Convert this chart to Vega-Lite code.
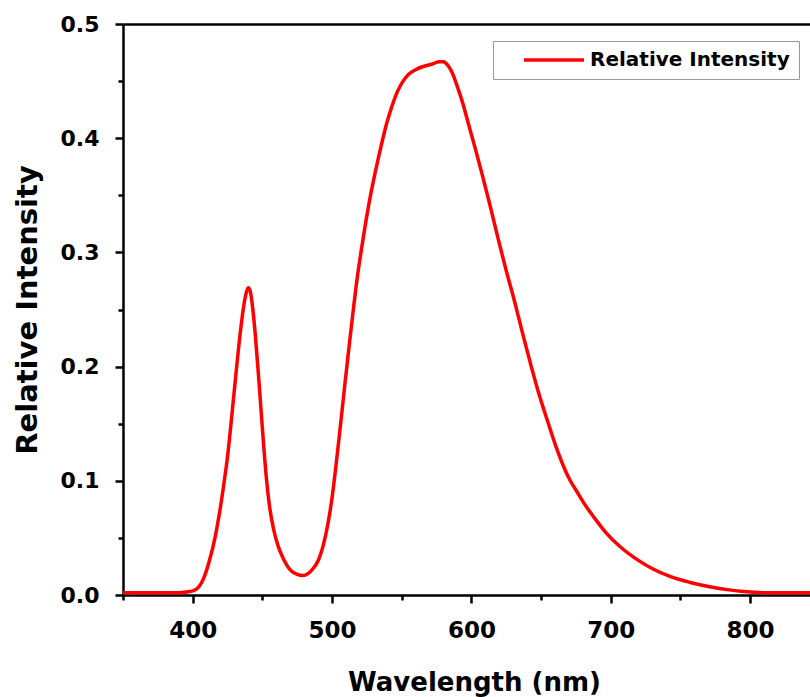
{
  "$schema": "https://vega.github.io/schema/vega-lite/v6.json",
  "autosize": {"type": "none"},
  "padding": {"left": 123, "top": 24, "right": 0, "bottom": 102},
  "width": 687,
  "height": 571,
  "background": "white",
  "config": {
    "view": {"stroke": null},
    "font": "DejaVu Sans",
    "axis": {"grid": false, "domainColor": "black", "tickColor": "black", "domainWidth": 2.5, "tickWidth": 2.5, "labelColor": "black", "titleColor": "black", "labelFont": "DejaVu Sans", "titleFont": "DejaVu Sans", "labelFontWeight": "bold", "titleFontWeight": "bold"}
  },
  "data": {"values": [
    {"wl": 350, "ri": 0.002, "s": "Relative Intensity"},
    {"wl": 370, "ri": 0.002, "s": "Relative Intensity"},
    {"wl": 390, "ri": 0.002, "s": "Relative Intensity"},
    {"wl": 398, "ri": 0.003, "s": "Relative Intensity"},
    {"wl": 402, "ri": 0.0045, "s": "Relative Intensity"},
    {"wl": 405, "ri": 0.008, "s": "Relative Intensity"},
    {"wl": 408, "ri": 0.015, "s": "Relative Intensity"},
    {"wl": 412, "ri": 0.03, "s": "Relative Intensity"},
    {"wl": 416, "ri": 0.05, "s": "Relative Intensity"},
    {"wl": 419, "ri": 0.07, "s": "Relative Intensity"},
    {"wl": 422, "ri": 0.094, "s": "Relative Intensity"},
    {"wl": 425, "ri": 0.121, "s": "Relative Intensity"},
    {"wl": 428, "ri": 0.156, "s": "Relative Intensity"},
    {"wl": 431, "ri": 0.193, "s": "Relative Intensity"},
    {"wl": 434, "ri": 0.228, "s": "Relative Intensity"},
    {"wl": 436.5, "ri": 0.252, "s": "Relative Intensity"},
    {"wl": 438.5, "ri": 0.265, "s": "Relative Intensity"},
    {"wl": 440, "ri": 0.269, "s": "Relative Intensity"},
    {"wl": 441.5, "ri": 0.265, "s": "Relative Intensity"},
    {"wl": 443, "ri": 0.252, "s": "Relative Intensity"},
    {"wl": 445, "ri": 0.227, "s": "Relative Intensity"},
    {"wl": 447, "ri": 0.196, "s": "Relative Intensity"},
    {"wl": 449, "ri": 0.163, "s": "Relative Intensity"},
    {"wl": 451, "ri": 0.13, "s": "Relative Intensity"},
    {"wl": 453, "ri": 0.101, "s": "Relative Intensity"},
    {"wl": 455, "ri": 0.079, "s": "Relative Intensity"},
    {"wl": 458, "ri": 0.058, "s": "Relative Intensity"},
    {"wl": 461, "ri": 0.044, "s": "Relative Intensity"},
    {"wl": 465, "ri": 0.032, "s": "Relative Intensity"},
    {"wl": 470, "ri": 0.022, "s": "Relative Intensity"},
    {"wl": 475, "ri": 0.018, "s": "Relative Intensity"},
    {"wl": 479, "ri": 0.017, "s": "Relative Intensity"},
    {"wl": 483, "ri": 0.019, "s": "Relative Intensity"},
    {"wl": 487, "ri": 0.024, "s": "Relative Intensity"},
    {"wl": 490, "ri": 0.03, "s": "Relative Intensity"},
    {"wl": 494, "ri": 0.045, "s": "Relative Intensity"},
    {"wl": 497, "ri": 0.062, "s": "Relative Intensity"},
    {"wl": 500, "ri": 0.085, "s": "Relative Intensity"},
    {"wl": 503, "ri": 0.115, "s": "Relative Intensity"},
    {"wl": 506, "ri": 0.148, "s": "Relative Intensity"},
    {"wl": 509, "ri": 0.182, "s": "Relative Intensity"},
    {"wl": 512, "ri": 0.215, "s": "Relative Intensity"},
    {"wl": 515, "ri": 0.247, "s": "Relative Intensity"},
    {"wl": 518, "ri": 0.277, "s": "Relative Intensity"},
    {"wl": 521, "ri": 0.302, "s": "Relative Intensity"},
    {"wl": 524, "ri": 0.325, "s": "Relative Intensity"},
    {"wl": 527, "ri": 0.346, "s": "Relative Intensity"},
    {"wl": 531, "ri": 0.37, "s": "Relative Intensity"},
    {"wl": 535, "ri": 0.392, "s": "Relative Intensity"},
    {"wl": 539, "ri": 0.412, "s": "Relative Intensity"},
    {"wl": 543, "ri": 0.428, "s": "Relative Intensity"},
    {"wl": 547, "ri": 0.441, "s": "Relative Intensity"},
    {"wl": 551, "ri": 0.45, "s": "Relative Intensity"},
    {"wl": 555, "ri": 0.456, "s": "Relative Intensity"},
    {"wl": 560, "ri": 0.46, "s": "Relative Intensity"},
    {"wl": 566, "ri": 0.463, "s": "Relative Intensity"},
    {"wl": 572, "ri": 0.465, "s": "Relative Intensity"},
    {"wl": 577, "ri": 0.467, "s": "Relative Intensity"},
    {"wl": 580, "ri": 0.467, "s": "Relative Intensity"},
    {"wl": 583, "ri": 0.464, "s": "Relative Intensity"},
    {"wl": 586, "ri": 0.458, "s": "Relative Intensity"},
    {"wl": 590, "ri": 0.445, "s": "Relative Intensity"},
    {"wl": 594, "ri": 0.43, "s": "Relative Intensity"},
    {"wl": 598, "ri": 0.412, "s": "Relative Intensity"},
    {"wl": 603, "ri": 0.39, "s": "Relative Intensity"},
    {"wl": 608, "ri": 0.367, "s": "Relative Intensity"},
    {"wl": 613, "ri": 0.343, "s": "Relative Intensity"},
    {"wl": 619, "ri": 0.313, "s": "Relative Intensity"},
    {"wl": 625, "ri": 0.284, "s": "Relative Intensity"},
    {"wl": 631, "ri": 0.257, "s": "Relative Intensity"},
    {"wl": 637, "ri": 0.228, "s": "Relative Intensity"},
    {"wl": 643, "ri": 0.2, "s": "Relative Intensity"},
    {"wl": 649, "ri": 0.174, "s": "Relative Intensity"},
    {"wl": 655, "ri": 0.151, "s": "Relative Intensity"},
    {"wl": 661, "ri": 0.129, "s": "Relative Intensity"},
    {"wl": 666, "ri": 0.113, "s": "Relative Intensity"},
    {"wl": 671, "ri": 0.1, "s": "Relative Intensity"},
    {"wl": 676, "ri": 0.09, "s": "Relative Intensity"},
    {"wl": 681, "ri": 0.08, "s": "Relative Intensity"},
    {"wl": 688, "ri": 0.068, "s": "Relative Intensity"},
    {"wl": 697, "ri": 0.054, "s": "Relative Intensity"},
    {"wl": 707, "ri": 0.042, "s": "Relative Intensity"},
    {"wl": 719, "ri": 0.031, "s": "Relative Intensity"},
    {"wl": 730, "ri": 0.023, "s": "Relative Intensity"},
    {"wl": 743, "ri": 0.016, "s": "Relative Intensity"},
    {"wl": 757, "ri": 0.011, "s": "Relative Intensity"},
    {"wl": 771, "ri": 0.0073, "s": "Relative Intensity"},
    {"wl": 785, "ri": 0.0045, "s": "Relative Intensity"},
    {"wl": 795, "ri": 0.003, "s": "Relative Intensity"},
    {"wl": 810, "ri": 0.002, "s": "Relative Intensity"},
    {"wl": 843, "ri": 0.002, "s": "Relative Intensity"}
  ]},
  "resolve": {"axis": {"x": "independent", "y": "independent"}},
  "layer": [
    {
      "mark": {"type": "line", "opacity": 0},
      "encoding": {
        "x": {"field": "wl", "type": "quantitative", "scale": {"domain": [350, 843], "nice": false, "zero": false},
              "axis": {"orient": "bottom", "values": [350, 450, 550, 650, 750], "labels": false, "tickSize": 5, "domain": false, "title": null, "grid": false}},
        "y": {"field": "ri", "type": "quantitative", "scale": {"domain": [0, 0.5], "nice": false},
              "axis": {"orient": "left", "values": [0.05, 0.15, 0.25, 0.35, 0.45], "labels": false, "tickSize": 5, "domain": false, "title": null, "grid": false}}
      }
    },
    {
      "mark": {"type": "line", "opacity": 0},
      "encoding": {
        "x": {"field": "wl", "type": "quantitative", "axis": {"orient": "top", "labels": false, "ticks": false, "title": null, "grid": false}},
        "y": {"field": "ri", "type": "quantitative", "axis": null}
      }
    },
    {
      "mark": {"type": "line", "interpolate": "monotone", "strokeWidth": 3.5},
      "encoding": {
        "x": {"field": "wl", "type": "quantitative",
              "axis": {"orient": "bottom", "values": [400, 500, 600, 700, 800], "tickSize": 8, "labelPadding": 16, "labelFontSize": 23, "labelFlush": false,
                       "title": "Wavelength (nm)", "titleFontSize": 26, "titleBaseline": "alphabetic", "titleX": 351, "titleY": 95}},
        "y": {"field": "ri", "type": "quantitative",
              "axis": {"orient": "left", "values": [0, 0.1, 0.2, 0.3, 0.4, 0.5], "format": ".1f", "tickSize": 8, "labelPadding": 16, "labelFontSize": 22, "labelFlush": false,
                       "title": "Relative Intensity", "titleFontSize": 29, "titleBaseline": "alphabetic", "titleX": -87}},
        "color": {"field": "s", "type": "nominal", "scale": {"range": ["#ff0000"]},
                  "legend": {"orient": "none", "legendX": 370, "legendY": 17, "title": null, "symbolType": "M-3.75,0H3.75", "symbolSize": 256, "symbolStrokeWidth": 3.5, "symbolStrokeColor": "#ff0000",
                             "labelFontSize": 20, "labelFontWeight": "bold", "labelColor": "black", "labelFont": "DejaVu Sans", "labelOffset": 26, "labelLimit": 0, "labelExpr": "datum.label + '\u00a0\u00a0'",
                             "symbolOffset": 42, "padding": 9, "strokeColor": "#999999", "fillColor": "white"}}
      }
    }
  ]
}
